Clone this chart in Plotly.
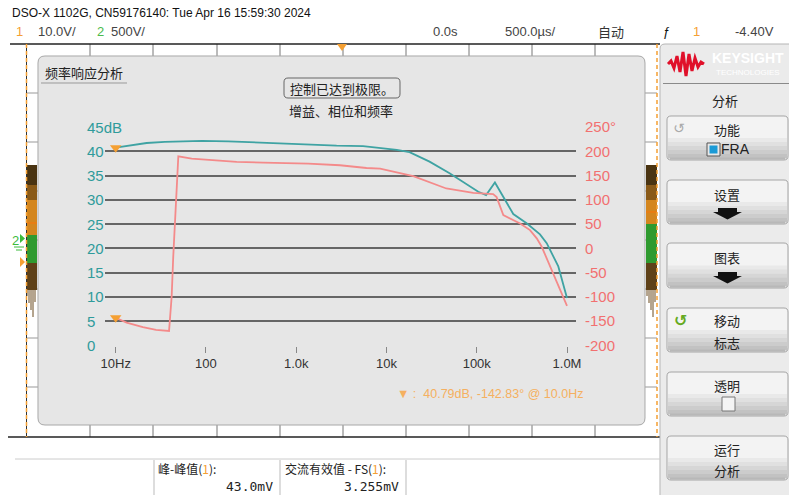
import math
import plotly.graph_objects as go

# ---------------- data ----------------
gain_freq_hz = [10, 22, 35, 90, 177, 432, 1400, 2800, 5500, 9000, 13000, 18000,
                30000, 50000, 77000, 104000, 127000, 159000, 254000, 357000,
                502000, 596000, 801000, 1000000]
gain_db = [40.79, 41.75, 41.98, 42.18, 42.1, 41.77, 41.44, 41.2, 41.1, 40.75, 40.35, 39.85,
           37.9, 35.5, 33.3, 31.7, 31.0, 33.6, 27.1, 25.2,
           22.9, 21.1, 16.3, 9.8]

phase_freq_hz = [10, 13.2, 20, 28, 39, 41.7, 43.4, 45.4, 47.4, 48.4, 49.4, 69.5, 137, 219,
                 432, 1360, 3050, 6000, 8500, 14100, 19800, 46000, 91600, 152000,
                 166000, 197000, 302000, 389000, 462000, 525000, 705000, 1000000]
phase_deg = [-142.83, -152.9, -162.4, -167.9, -170, -99, -17, 51.6, 106, 140, 190, 185.4, 182, 178.4,
             177, 175, 171.6, 166, 164.8, 155.8, 149, 123.7, 114.6, 112,
             106, 68.7, 51.6, 37.9, 20.8, 3.5, -51, -118.5]

x_tick_vals = [10, 100, 1000, 10000, 100000, 1000000]
x_tick_labels = ["10Hz", "100", "1.0k", "10k", "100k", "1.0M"]
gain_ticks = [0, 5, 10, 15, 20, 25, 30, 35, 40, 45]
gain_tick_labels = ["0", "5", "10", "15", "20", "25", "30", "35", "40", "45dB"]
phase_ticks = [-200, -150, -100, -50, 0, 50, 100, 150, 200, 250]
phase_tick_labels = ["-200", "-150", "-100", "-50", "0", "50", "100", "150", "200", "250°"]

marker_freq = 10.0
marker_gain = 40.79
marker_phase = -142.83

# ---------------- helpers ----------------
W, H = 789, 495
NARROW = "Liberation Sans, Arial, sans-serif"
CJK = "Noto Sans CJK SC, Noto Sans, sans-serif"
MONO = "DejaVu Sans Mono, Liberation Mono, monospace"
TEAL = "#3fa3a3"
TEAL_TXT = "#2f9b9b"
SALMON = "#f48a8a"
SALMON_TXT = "#f27070"
ORANGE = "#f5a033"


def X(p):
    return p / W


def Y(p):
    return 1 - p / H


shapes = []
annotations = []


def rect(x0, y0, x1, y1, fill, line=None, lw=0, layer="below"):
    shapes.append(dict(type="rect", xref="paper", yref="paper",
                       x0=X(x0), x1=X(x1), y0=Y(y1), y1=Y(y0),
                       fillcolor=fill, line=dict(color=line or fill, width=lw), layer=layer))


def seg(x0, y0, x1, y1, color, w=1, dash="solid", layer="below"):
    shapes.append(dict(type="line", xref="paper", yref="paper",
                       x0=X(x0), x1=X(x1), y0=Y(y0), y1=Y(y1),
                       line=dict(color=color, width=w, dash=dash), layer=layer))


def rpath(x0, y0, x1, y1, r):
    def P(x, y):
        return f"{X(x):.5f},{Y(y):.5f}"
    return (f"M {P(x0 + r, y0)} L {P(x1 - r, y0)} Q {P(x1, y0)} {P(x1, y0 + r)} "
            f"L {P(x1, y1 - r)} Q {P(x1, y1)} {P(x1 - r, y1)} L {P(x0 + r, y1)} "
            f"Q {P(x0, y1)} {P(x0, y1 - r)} L {P(x0, y0 + r)} Q {P(x0, y0)} {P(x0 + r, y0)} Z")


def poly(pts, fill, line=None, lw=0, layer="below"):
    d = "M " + " L ".join(f"{X(x):.5f},{Y(y):.5f}" for x, y in pts) + " Z"
    shapes.append(dict(type="path", xref="paper", yref="paper", path=d,
                       fillcolor=fill, line=dict(color=line or fill, width=lw), layer=layer))


def text(x, y, s, size=13, color="#333", family=NARROW, xanchor="left", **kw):
    annotations.append(dict(x=X(x), y=Y(y), xref="paper", yref="paper", text=s,
                            showarrow=False, xanchor=xanchor, yanchor="middle", borderpad=0,
                            font=dict(size=size, color=color, family=family), **kw))


# ---------------- scope screen background ----------------
for gx in [90, 153, 217, 280, 343, 406, 469, 532, 595]:
    seg(gx, 44, gx, 437, "#777", 1)
for gy in [93, 142, 191, 240, 289, 338, 387]:
    seg(26, gy, 657, gy, "#999", 1)

# waveform bands
for bx0, bx1, gtop in [(26, 37, 235), (646, 657, 224)]:
    rect(bx0, 165, bx1, 185, "#4a3412")
    rect(bx0, 185, bx1, 200, "#8a5a18")
    rect(bx0, 200, bx1, gtop, "#d4861e")
    seg(bx0, gtop - 12, bx1, gtop - 12, "#ee7a10", 1.5)
    rect(bx0, gtop, bx1, 263, "#2f9a2f")
    rect(bx0, 263, bx1, 290, "#5f4118")
    for i, sx in enumerate(range(bx0 + 1, bx1, 2)):
        seg(sx, 290, sx, 296 + (i * 7) % 22, "#6b4a1e", 1)

seg(10, 44, 660, 44, "#222", 1.5)
seg(8, 437, 660, 437, "#222", 1.5)
seg(26.5, 44, 26.5, 437, "#333", 1)
seg(26.5, 44, 26.5, 437, ORANGE, 1.5, dash="4px,3px")
seg(657, 44, 657, 437, ORANGE, 1.5, dash="4px,3px")
poly([(337, 44), (347, 44), (342, 51)], ORANGE)

# left channel markers
text(11, 240, "2", size=13, color="#3cbb3c")
poly([(20, 234), (25, 238.5), (20, 243)], "#3cbb3c")
seg(14, 247, 24, 247, "#3cbb3c", 1)
seg(16, 250, 22, 250, "#3cbb3c", 1)
poly([(20, 257), (25, 262), (20, 267)], ORANGE)

# FRA panel
shapes.append(dict(type="path", xref="paper", yref="paper", path=rpath(38, 56, 645, 425, 7),
                   fillcolor="#e6e6e6", line=dict(color="#a8a8a8", width=1), layer="below"))
seg(41, 83, 127, 83, "#999", 1)
text(44, 72, "频率响应分析", size=13, color="#222", family=CJK)
shapes.append(dict(type="path", xref="paper", yref="paper", path=rpath(284, 78, 400, 98, 4),
                   fillcolor="rgba(0,0,0,0)", line=dict(color="#666", width=1), layer="below"))
text(342, 88, "控制已达到极限。", size=13, color="#222", family=CJK, xanchor="center")
text(341, 110, "增益、相位和频率", size=13, color="#222", family=CJK, xanchor="center")

# ---------------- top status bar ----------------
text(11, 13, "DSO-X 1102G, CN59176140: Tue Apr 16 15:59:30 2024", size=12, color="#111")
text(15, 32, "1", size=13, color=ORANGE)
text(37, 32, "10.0V/", size=13, color="#444")
text(96, 32, "2", size=13, color="#4cbb4c")
text(110, 32, "500V/", size=13, color="#444")
text(432, 32, "0.0s", size=13, color="#444")
text(504, 32, "500.0µs/", size=13, color="#444")
text(597, 32, "自动", size=13, color="#333", family=CJK)
text(662, 32, "ƒ", size=13, color="#111")
text(692, 32, "1", size=13, color=ORANGE)
text(734, 32, "-4.40V", size=13, color="#444")

# ---------------- right softkey panel ----------------
shapes.append(dict(type="path", xref="paper", yref="paper", path=rpath(660, 44, 800, 505, 5),
                   fillcolor="#ebebeb", line=dict(color="#b5b5b5", width=1), layer="below"))
logo_pts = [(668, 64), (671, 61), (674, 68), (677, 56), (680, 72), (683, 52), (686, 76), (689, 54),
            (692, 71), (695, 58), (698, 67), (701, 62), (704, 64)]
shapes.append(dict(type="path", xref="paper", yref="paper",
                   path="M " + " L ".join(f"{X(x):.5f},{Y(y):.5f}" for x, y in logo_pts),
                   fillcolor="rgba(0,0,0,0)", line=dict(color="#e0102a", width=3), layer="below"))
text(748, 58, "<b>KEYSIGHT</b>", size=14, color="#ffffff", xanchor="center")
text(748, 72, "TECHNOLOGIES", size=8, color="#ffffff", xanchor="center")
seg(663, 83.5, 789, 83.5, "#8a8a8a", 1)
text(725, 101, "分析", size=13, color="#222", family=CJK, xanchor="center")

buttons = [(116, 160), (180, 224), (243, 288), (308, 352), (372, 416), (436, 480)]
stripe_cols = ["#e9e9e9", "#e0e0e0", "#d6d6d6", "#cccccc", "#c2c2c2"]
for (b0, b1) in buttons:
    shapes.append(dict(type="path", xref="paper", yref="paper", path=rpath(667, b0, 788, b1, 4),
                       fillcolor="#f3f3f3", line=dict(color="#f3f3f3", width=0), layer="below"))
    h = b1 - b0
    top = b0 + h * 0.5
    step = (b1 - 2 - top) / len(stripe_cols)
    for i, c in enumerate(stripe_cols):
        rect(668, top + i * step, 787, top + (i + 1) * step + 0.6, c)
    rect(670, b1 - 2.5, 785, b1 - 0.5, "#b8b8b8")
    shapes.append(dict(type="path", xref="paper", yref="paper", path=rpath(667, b0, 788, b1, 4),
                       fillcolor="rgba(0,0,0,0)", line=dict(color="#a5a5a5", width=1), layer="below"))

text(727, 129, "功能", size=13, color="#222", family=CJK, xanchor="center")
text(679, 128, "↺", size=14, color="#aaaaaa", family="DejaVu Sans", xanchor="center")
rect(707, 143, 720, 156, "#e8e8e8", line="#555", lw=1)
rect(709.5, 145.5, 717.5, 153.5, "#1a9ad6")
text(735, 149, "FRA", size=14, color="#222", xanchor="center")
text(727, 194, "设置", size=13, color="#222", family=CJK, xanchor="center")
text(727, 257, "图表", size=13, color="#222", family=CJK, xanchor="center")
for ay in [208, 272]:
    poly([(718, ay), (737, ay), (737, ay + 4), (742, ay + 4), (727.5, ay + 11.5), (713, ay + 4), (718, ay + 4)], "#111")
text(727, 320, "移动", size=13, color="#222", family=CJK, xanchor="center")
text(680, 320, "<b>↺</b>", size=16, color="#66aa22", family="DejaVu Sans", xanchor="center")
text(727, 342, "标志", size=13, color="#222", family=CJK, xanchor="center")
text(727, 385, "透明", size=13, color="#222", family=CJK, xanchor="center")
rect(722, 397, 735, 411, "#f4f4f4", line="#777", lw=1)
text(727, 449, "运行", size=13, color="#222", family=CJK, xanchor="center")
text(727, 470, "分析", size=13, color="#222", family=CJK, xanchor="center")

# ---------------- bottom measurement area ----------------
seg(15, 459, 660, 459, "#cccccc", 1)
for sx in [154, 280, 406]:
    seg(sx, 460, sx, 495, "#bbbbbb", 1)
text(157, 468, f'峰-峰值(<span style="color:{ORANGE}">1</span>):', size=12, color="#222", family=CJK)
text(274, 486, "43.0mV", size=13, color="#222", family=MONO, xanchor="right")
text(284, 468, f'交流有效值 - FS(<span style="color:{ORANGE}">1</span>):', size=12, color="#222", family=CJK)
text(400, 486, "3.255mV", size=13, color="#222", family=MONO, xanchor="right")

# ---------------- readout ----------------
text(396, 394, f"▼ :  {marker_gain:.2f}dB, {marker_phase:.2f}° @ {marker_freq:.1f}Hz",
     size=12.5, color="#f5b060")

# ---------------- plot axes & traces ----------------
px_per_dec = (567.0 - 115.7) / 5
x_lo = 1 - (115.7 - 105) / px_per_dec
x_hi = 1 + (576 - 115.7) / px_per_dec

for v, lab in zip(gain_ticks, gain_tick_labels):
    annotations.append(dict(x=X(86), y=v, xref="paper", yref="y", text=lab, showarrow=False,
                            xanchor="left", yanchor="middle", bgcolor="#e6e6e6", borderpad=0,
                            font=dict(size=15, color=TEAL_TXT, family=NARROW)))

fig = go.Figure()
fig.add_trace(go.Scatter(x=gain_freq_hz, y=gain_db, mode="lines",
                         line=dict(color=TEAL, width=1.8), xaxis="x", yaxis="y",
                         hoverinfo="skip", showlegend=False))
fig.add_trace(go.Scatter(x=phase_freq_hz, y=phase_deg, mode="lines",
                         line=dict(color=SALMON, width=1.8), xaxis="x", yaxis="y2",
                         hoverinfo="skip", showlegend=False))
fig.add_trace(go.Scatter(x=[marker_freq], y=[marker_gain], mode="markers",
                         marker=dict(symbol="triangle-down", size=10, color=ORANGE),
                         xaxis="x", yaxis="y", showlegend=False, hoverinfo="skip"))
fig.add_trace(go.Scatter(x=[marker_freq], y=[marker_phase], mode="markers",
                         marker=dict(symbol="triangle-down", size=10, color=ORANGE),
                         xaxis="x", yaxis="y2", showlegend=False, hoverinfo="skip"))

fig.update_layout(
    width=W, height=H,
    margin=dict(l=0, r=0, t=0, b=0, pad=0, autoexpand=False),
    paper_bgcolor="#ffffff",
    plot_bgcolor="rgba(0,0,0,0)",
    showlegend=False,
    shapes=shapes,
    annotations=annotations,
    xaxis=dict(type="log", range=[x_lo, x_hi], domain=[X(105), X(576)], anchor="y",
               automargin=False,
               tickvals=x_tick_vals, ticktext=x_tick_labels, ticks="outside", ticklen=6,
               tickcolor="#888", tickwidth=1, showgrid=False, zeroline=False, showline=False,
               tickfont=dict(size=13, color="#333", family=NARROW)),
    yaxis=dict(range=[-0.05, 45.05], domain=[Y(345.7), Y(127)], tickvals=gain_ticks,
               automargin=False,
               showticklabels=False, ticks="", showgrid=True, gridcolor="#666", gridwidth=1.5,
               zeroline=False, showline=False),
    yaxis2=dict(range=[-200.5, 250.5], overlaying="y", side="right", anchor="x",
                automargin=False,
                tickvals=phase_ticks, ticktext=phase_tick_labels, ticks="", showgrid=False,
                zeroline=False, showline=False, ticklabelstandoff=8,
                tickfont=dict(size=15, color=SALMON_TXT, family=NARROW)),
)

fig.write_html(
    "out.html",
    config={"displayModeBar": False},
    post_script="document.body.style.margin='0';document.body.style.padding='0';"
                "document.documentElement.style.overflow='hidden';",
)
